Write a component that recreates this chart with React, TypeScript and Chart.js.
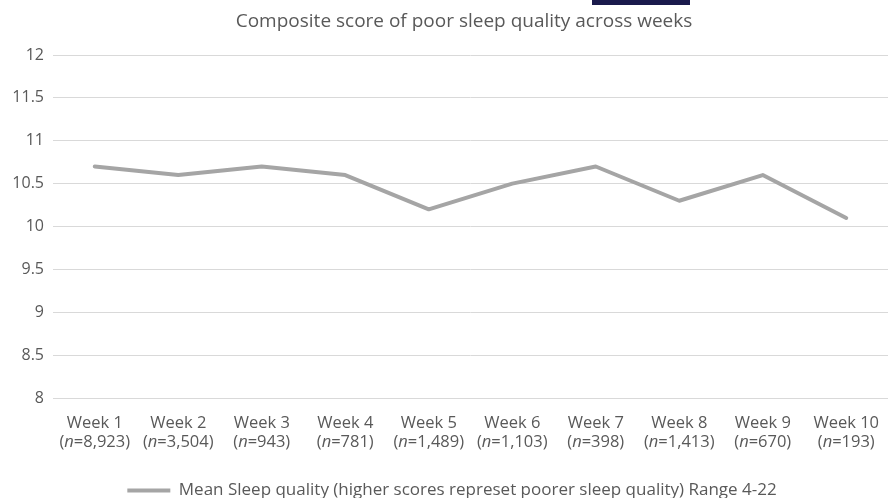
import React, { useEffect, useRef } from "react";
import { Chart, registerables } from "chart.js";

Chart.register(...registerables);

const TITLE = "Composite score of poor sleep quality across weeks";
const weeks = ["Week 1", "Week 2", "Week 3", "Week 4", "Week 5", "Week 6", "Week 7", "Week 8", "Week 9", "Week 10"];
const sampleSizes = ["8,923", "3,504", "943", "781", "1,489", "1,103", "398", "1,413", "670", "193"];
const meanSleepQuality = [10.7, 10.6, 10.7, 10.6, 10.2, 10.5, 10.7, 10.3, 10.6, 10.1];
const SERIES_LABEL = "Mean Sleep quality (higher scores represet poorer sleep quality) Range 4-22";
const Y_MIN = 8;
const Y_MAX = 12;
const Y_STEP = 0.5;

const FONT = "'Open Sans', 'Noto Sans', sans-serif";
const TEXT = "#595959";
const LINE = "#A5A5A5";
const GRID = "#D9D9D9";
const X_FONT_SIZE = 16.5;
const X_LINE_H = 19;
const X_TICK_PAD = 16;

const customText = {
  id: "customText",
  afterDraw(chart: any) {
    const ctx = chart.ctx;
    ctx.save();
    ctx.fillStyle = TEXT;
    ctx.textAlign = "center";
    ctx.textBaseline = "middle";
    ctx.font = `19px ${FONT}`;
    ctx.fillText(TITLE, 464, 22);
    const xs = chart.scales.x;
    const y1 = xs.top + X_TICK_PAD + X_LINE_H / 2;
    const y2 = y1 + X_LINE_H;
    const normal = `${X_FONT_SIZE}px ${FONT}`;
    const italic = `italic ${X_FONT_SIZE}px ${FONT}`;
    weeks.forEach((w, i) => {
      const cx = xs.getPixelForTick(i);
      ctx.font = normal;
      ctx.textAlign = "center";
      ctx.fillText(w, cx, y1);
      const a = "(";
      const b = "n";
      const c = "=" + sampleSizes[i] + ")";
      ctx.font = normal;
      const wa = ctx.measureText(a).width;
      const wc = ctx.measureText(c).width;
      ctx.font = italic;
      const wb = ctx.measureText(b).width;
      let x = cx - (wa + wb + wc) / 2;
      ctx.textAlign = "left";
      ctx.font = normal;
      ctx.fillText(a, x, y2);
      x += wa;
      ctx.font = italic;
      ctx.fillText(b, x, y2);
      x += wb;
      ctx.font = normal;
      ctx.fillText(c, x, y2);
    });
    ctx.restore();
  },
};

export default function App() {
  const ref = useRef<HTMLCanvasElement>(null);
  useEffect(() => {
    if (!ref.current) return;
    const chart = new Chart(ref.current, {
      type: "line",
      data: {
        labels: weeks,
        datasets: [
          {
            label: SERIES_LABEL,
            data: meanSleepQuality,
            borderColor: LINE,
            backgroundColor: LINE,
            borderWidth: 4,
            pointRadius: 0,
            pointHoverRadius: 0,
            borderCapStyle: "round",
            borderJoinStyle: "round",
            tension: 0,
          },
        ],
      },
      options: {
        responsive: false,
        animation: false,
        layout: { padding: { left: 10, right: -6, top: 55, bottom: -11 } },
        plugins: {
          title: { display: false },
          tooltip: { enabled: false },
          legend: {
            display: true,
            position: "bottom",
            labels: {
              font: { family: FONT, size: 17 },
              color: TEXT,
              boxWidth: 43,
              boxHeight: 4,
              padding: 4,
              generateLabels: () => [
                {
                  text: SERIES_LABEL,
                  fillStyle: LINE,
                  strokeStyle: LINE,
                  lineWidth: 0,
                  hidden: false,
                  datasetIndex: 0,
                  fontColor: TEXT,
                } as any,
              ],
            },
          },
        },
        scales: {
          x: {
            offset: true,
            afterFit: (s: any) => {
              s.height = 80;
            },
            grid: { display: false, drawTicks: false },
            border: { display: true, color: GRID },
            ticks: { display: false },
          },
          y: {
            min: Y_MIN,
            max: Y_MAX,
            afterFit: (s: any) => {
              s.width = 43;
            },
            grid: { color: GRID, drawTicks: false },
            border: { display: false },
            ticks: {
              stepSize: Y_STEP,
              color: TEXT,
              font: { family: FONT, size: 16 },
              padding: 9,
              callback: (v: any) => String(v),
            },
          },
        },
      },
      plugins: [customText],
    });
    return () => chart.destroy();
  }, []);
  return (
    <div style={{ position: "fixed", left: 0, top: 0, width: 888, height: 498, background: "#fff", overflow: "hidden" }}>
      <canvas ref={ref} width={888} height={498} style={{ display: "block", width: 888, height: 498 }} />
      <div style={{ position: "absolute", left: 592, top: 0, width: 98, height: 5, background: "#1a1a4c" }} />
    </div>
  );
}
